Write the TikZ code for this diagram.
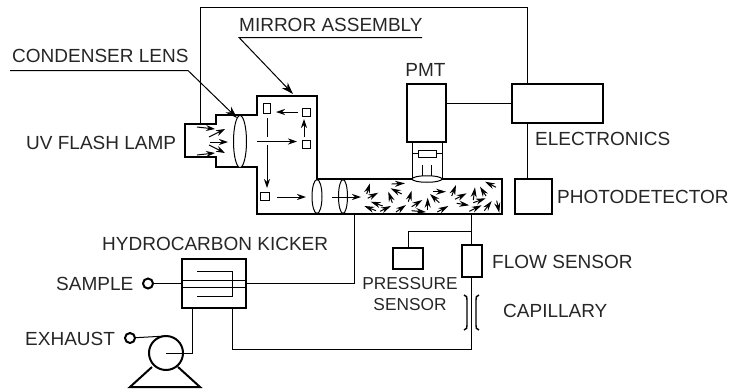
\documentclass[tikz,border=0pt]{standalone}
\usepackage{fontspec}
\setmainfont{Liberation Sans}
\usetikzlibrary{arrows.meta, shapes.geometric}
\tikzstyle{box} = [rectangle, draw, line width=2pt, inner sep=0pt, outer sep=0pt]
\tikzstyle{mirror} = [rectangle, draw, line width=1pt, inner sep=0pt, outer sep=0pt]
\tikzstyle{lens} = [ellipse, draw, fill=white, line width=1pt, inner sep=0pt, outer sep=0pt]
\tikzstyle{port} = [circle, draw, line width=2pt, minimum size=10pt, inner sep=0pt, outer sep=0pt]
\tikzstyle{label} = [font=\fontsize{19}{21}\selectfont, text=black!85, inner sep=0pt, anchor=west, align=center]
\tikzstyle{wire} = [line width=1pt]
\tikzstyle{arrow} = [line width=1pt, -{Stealth[length=9pt, width=6pt]}]
\tikzstyle{gas} = [line width=1pt, -{Stealth[length=10pt, width=6pt]}]
\tikzstyle{leader} = [line width=1pt, -{Stealth[length=12pt, width=8pt]}]

\begin{document}
\begin{tikzpicture}[x=1pt, y=-1pt]
    \useasboundingbox (0,0) rectangle (732,389);
    % optics housing and sample tube
    \draw[line width=2pt] (185,124) -- (216,124) -- (216,115) -- (257,115) -- (257,96) -- (317,96)
      -- (317,179) -- (502,179) -- (502,214) -- (257,214) -- (257,167) -- (216,167) -- (216,157) -- (185,157) -- cycle;
    \node[lens, minimum width=13pt, minimum height=52pt] (lens0) at (240,141.5) {};
    \node[lens, minimum width=10pt, minimum height=34pt] (lens1) at (317,196.5) {};
    \node[lens, minimum width=9pt, minimum height=34pt] (lens2) at (343,196.5) {};
    % mirrors
    \node[mirror, minimum width=6.5pt, minimum height=10pt] (m0) at (267,108) {};
    \node[mirror, minimum width=8pt, minimum height=8pt] (m1) at (306,112) {};
    \node[mirror, minimum width=8pt, minimum height=8pt] (m2) at (306,144.5) {};
    \node[mirror, minimum width=9pt, minimum height=7.5pt] (m3) at (265,196.5) {};
    % light path
    \draw[arrow] (197,127) -- (215,129);
    \draw[arrow] (209,137) -- (225,129);
    \draw[arrow] (210,142) -- (228,142);
    \draw[arrow] (209,145) -- (225,153);
    \draw[arrow] (197,155) -- (215,153);
    \draw[arrow] (257,141.5) -- (297,141.5);
    \draw[arrow] (304,137) -- (304,119);
    \draw[arrow] (298,112) -- (276,112);
    \draw[wire] (267,118) -- (267,137);
    \draw[arrow] (267,145) -- (267,188);
    \draw[arrow] (277,197) -- (306,197);
    \draw[arrow] (332,197) -- (361,197);
    % molecules in the tube
    \foreach \xa/\ya/\xb/\yb in {366.7/194/370/183.3, 367.7/198.3/378.3/192.7, 391.7/184/405/183.3,
      401.7/194/390.7/188.3, 392.3/202.7/388.3/191.7, 408.3/201.7/411.7/190.7, 382.7/206/370.7/201.7,
      376/210.7/364.3/206, 380/211.3/391/206, 396/212/406/205, 411.7/206.7/422.3/200, 411.7/210.7/426/212,
      427.7/210/427.7/197.7, 439.3/202.7/430/194, 433.3/191.7/446/191.7, 437.3/212/448.3/206,
      451.7/196/456/185, 455/199.3/466.7/193.3, 456.7/203.3/469.3/205.3, 469.3/211.3/481.7/205.3,
      473.3/200/475/187.3, 473.3/202.7/485.7/198.3, 486/196/480/186.7, 496/187.3/485/181.7,
      484.3/210.7/491.7/201, 496.7/200.7/499.3/212.7}
      \draw[gas] (\xa,\ya) -- (\xb,\yb);
    % detector
    \node[box, minimum width=39pt, minimum height=58pt] (pmt) at (426.5,113) {};
    \node[label, anchor=center] (pmtlabel) at (425.5,70) {PMT};
    \node[lens, minimum width=30pt, minimum height=6.5pt] (lens3) at (427,179) {};
    \draw[wire] (412,142) -- (412,178);
    \draw[wire] (442,142) -- (442,178);
    \node[mirror, minimum width=18pt, minimum height=7pt] (filter) at (427,153.5) {};
    \draw[wire] (412,153.5) -- (filter.west);
    \draw[wire] (filter.east) -- (442,153.5);
    \draw[wire] (422,165) -- (422,176);
    \draw[wire] (431,165) -- (431,176);
    % electronics
    \node[box, minimum width=91pt, minimum height=39pt] (elec) at (557.5,103.5) {};
    \node[box, minimum width=37pt, minimum height=35pt] (photo) at (533.5,196.5) {};
    \node[label] (eleclabel) at (535,139) {ELECTRONICS};
    \node[label] (photolabel) at (557,197) {PHOTODETECTOR};
    \coordinate (lamptop) at (200,124);
    \coordinate (electop) at (527,84);
    \coordinate (elecfoot) at (527,123);
    \coordinate (phototop) at (527,179);
    \draw[wire] (lamptop) -- (200,7) -| (electop);
    \draw[wire] (elec.west) -- (elec.west -| pmt.east);
    \draw[wire] (elecfoot) -- (phototop);
    % leaders
    \node[label] (lamplabel) at (26,143) {UV FLASH LAMP};
    \node[label] (condlabel) at (12,56) {CONDENSER LENS};
    \node[label] (mirrlabel) at (239,25) {MIRROR ASSEMBLY};
    \coordinate (condtip) at (237,118);
    \coordinate (mirrtip) at (293,94);
    \draw[leader] (10,70.5) -- (188,70.5) -- (condtip);
    \draw[leader] (422,37.5) -- (239,37.5) -- (mirrtip);
    % sample handling
    \node[box, minimum width=64pt, minimum height=49pt] (kicker) at (214,283.5) {};
    \node[label] (kickerlabel) at (102,244) {HYDROCARBON KICKER};
    \node[port] (sample) at (148,283.5) {};
    \node[label] (samplelabel) at (56,284) {SAMPLE};
    \node[port] (exhaust) at (130,338) {};
    \node[label] (exhaustlabel) at (25,339) {EXHAUST};
    \node[circle, draw, line width=2pt, minimum size=34pt, inner sep=0pt, outer sep=0pt] (pump) at (166,353) {};
    \draw[wire] (sample) -- (kicker.west);
    \draw[wire] (kicker.west |- 0,280) -- (kicker.east |- 0,280);
    \draw[wire] (kicker.west |- 0,287) -- (kicker.east |- 0,287);
    \draw[wire] (197,271) -- (232,271) -- (232,296) -- (197,296);
    \coordinate (tubefoot) at (354,214);
    \draw[wire] (kicker.east) -| (tubefoot);
    \draw[wire] (exhaust) -- (pump.north);
    \draw[wire] (pump.center) -| (192,308);
    \draw[line width=2pt] (152,367) -- (130,387) -- (200,387) -- (178,367);
    % flow path
    \node[box, minimum width=20pt, minimum height=32pt] (flow) at (471.5,261) {};
    \node[box, minimum width=30pt, minimum height=21pt] (press) at (408,258.5) {};
    \node[label] (flowlabel) at (492,262) {FLOW SENSOR};
    \node[label, anchor=center, font=\fontsize{17.3}{21}\selectfont] (presslabel) at (410,294.5) {PRESSURE\\SENSOR};
    \node[label] (caplabel) at (503,311) {CAPILLARY};
    \coordinate (tubeexit) at (471.5,214);
    \draw[wire] (tubeexit) -- (flow.north);
    \draw[wire] (471.5,231) -| (press.north);
    \draw[wire] (232,308) |- (471.5,349) -- (flow.south);
    \draw[line width=1.4pt] (464,295) .. controls (467,296) and (467,297) .. (467,300) -- (467,325) .. controls (467,328) and (467,329) .. (464,330);
    \draw[line width=1.4pt] (479,295) .. controls (476,296) and (476,297) .. (476,300) -- (476,325) .. controls (476,328) and (476,329) .. (479,330);
\end{tikzpicture}
\end{document}
